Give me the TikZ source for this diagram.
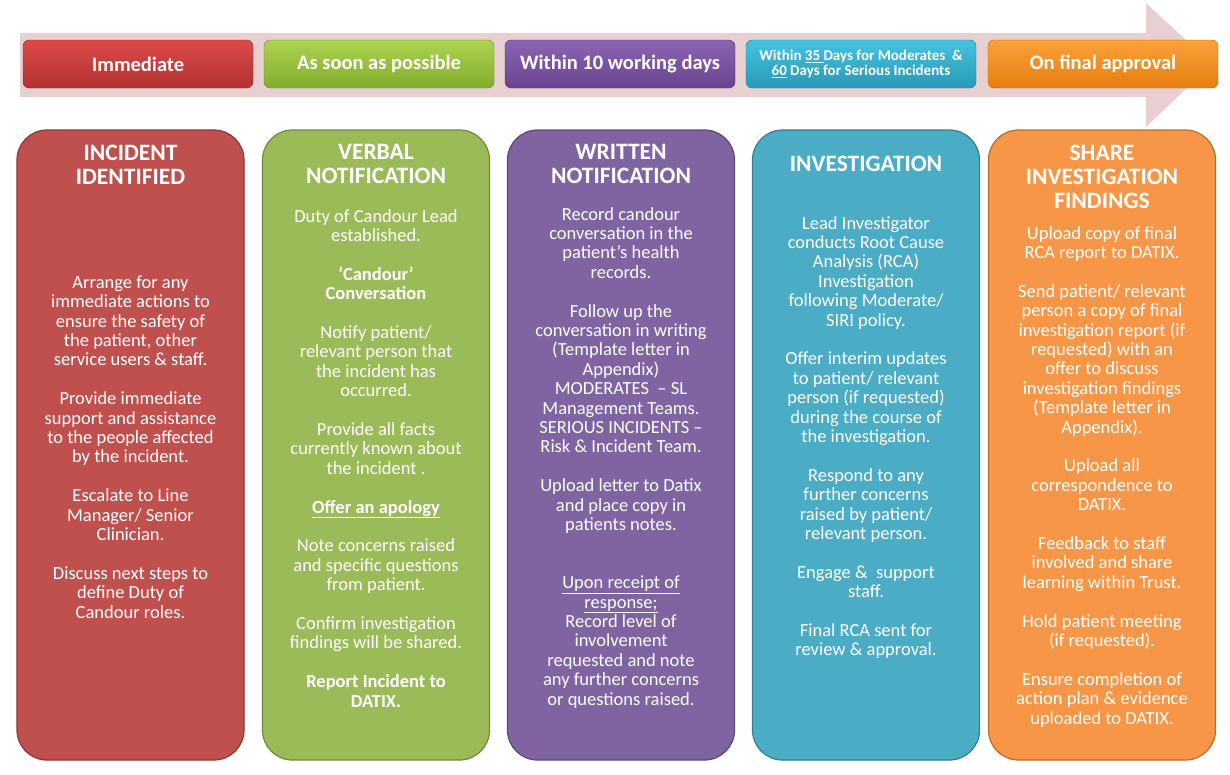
\documentclass[tikz,border=0pt]{standalone}
\usepackage{fontspec}
\setmainfont{Carlito}
\definecolor{bandpink}{HTML}{E8D0D0}
\definecolor{redTop}{HTML}{DE4A4A}\definecolor{redBot}{HTML}{B33131}\definecolor{redEdge}{HTML}{8E2A2A}
\definecolor{redCol}{HTML}{C0504D}\definecolor{redLine}{HTML}{8C3836}
\definecolor{grnTop}{HTML}{ACD450}\definecolor{grnBot}{HTML}{84AC2C}\definecolor{grnEdge}{HTML}{6A8A25}
\definecolor{grnCol}{HTML}{9BBB59}\definecolor{grnLine}{HTML}{71893F}
\definecolor{purTop}{HTML}{8C64B4}\definecolor{purBot}{HTML}{68448E}\definecolor{purEdge}{HTML}{533872}
\definecolor{purCol}{HTML}{8064A2}\definecolor{purLine}{HTML}{5C4776}
\definecolor{cyaTop}{HTML}{45C3E0}\definecolor{cyaBot}{HTML}{2899B6}\definecolor{cyaEdge}{HTML}{217F97}
\definecolor{cyaCol}{HTML}{4BACC6}\definecolor{cyaLine}{HTML}{357D91}
\definecolor{orgTop}{HTML}{FBA23A}\definecolor{orgBot}{HTML}{E57E0E}\definecolor{orgEdge}{HTML}{B8650B}
\definecolor{orgCol}{HTML}{F79646}\definecolor{orgLine}{HTML}{B66D31}
\newcommand{\gap}{\\[19.4pt]}
\lineskiplimit=-10pt

\begin{document}
\begin{tikzpicture}[x=1pt,y=-1pt,
   tab/.style={rounded corners=6pt, draw=#1Edge, top color=#1Top, bottom color=#1Bot,
      minimum width=230pt, minimum height=48pt, inner sep=2pt, text=white, align=center,
      font=\fontsize{20.5}{22}\selectfont\bfseries},
   col/.style={rounded corners=30pt, draw=#1Line, line width=1.2pt, fill=#1Col,
      minimum width=227pt, minimum height=630pt},
   head/.style={anchor=north, text=white, align=center, inner sep=0pt,
      font=\fontsize{23.5}{24}\selectfont\bfseries},
   body/.style={anchor=north, text=white, align=center, inner sep=0pt,
      font=\fontsize{18.5}{19.4}\selectfont}]
   \useasboundingbox (0,0) rectangle (1230,774);
   \fill[bandpink] (20,33) -- (1146,33) -- (1146,3) -- (1212,64) -- (1146,127) -- (1146,97) -- (20,97) -- cycle;

   \node[tab=red] (immediate) at (138,64) {Immediate};
   \node[tab=grn] (asap)      at (379,64) {As soon as possible};
   \node[tab=pur] (tenday)    at (620,64) {Within 10 working days};
   \node[tab=cya, font=\fontsize{15}{15.5}\selectfont\bfseries] (days) at (861,64)
      {Within \underline{35 }Days for Moderates\ \ \&\\ \underline{60} Days for Serious Incidents};
   \node[tab=org] (approval)  at (1103,64) {On final approval};

   \node[col=red] (incident) at (130.5,445) {};
   \node[col=grn] (verbal)   at (376,445) {};
   \node[col=pur] (written)  at (621,445) {};
   \node[col=cya] (invest)   at (866,445) {};
   \node[col=org] (share)    at (1102,445) {};

   \node[head] (incidentT) at (130.5,144.5) {INCIDENT\\ IDENTIFIED};
   \node[head] (verbalT)   at (376,144.5)   {VERBAL\\ NOTIFICATION};
   \node[head] (writtenT)  at (621,144.5)   {WRITTEN\\ NOTIFICATION};
   \node[head] (investT)   at (866,155.5)   {INVESTIGATION};
   \node[head] (shareT)    at (1102,144.5)  {SHARE\\ INVESTIGATION\\ FINDINGS};

   \node[body] (incidentB) at (130.5,275.5) {Arrange for any\\ immediate actions to\\ ensure the safety of\\
      the patient, other\\ service users \& staff.\gap
      Provide immediate\\ support and assistance\\ to the people affected\\ by the incident.\gap
      Escalate to Line\\ Manager/ Senior\\ Clinician.\gap
      Discuss next steps to\\ define Duty of\\ Candour roles.};
   \node[body] (verbalB) at (376,209) {Duty of Candour Lead\\ established.\gap
      \textbf{‘Candour’}\\ \textbf{Conversation}\gap
      Notify patient/\\ relevant person that\\ the incident has\\ occurred.\gap
      Provide all facts\\ currently known about\\ the incident .\gap
      \textbf{\underline{Offer an apology}}\gap
      Note concerns raised\\ and specific questions\\ from patient.\gap
      Confirm investigation\\ findings will be shared.\gap
      \textbf{Report Incident to}\\ \textbf{DATIX.}};
   \node[body] (writtenB) at (621,207) {Record candour\\ conversation in the\\ patient’s health\\ records.\gap
      Follow up the\\ conversation in writing\\ (Template letter in\\ Appendix)\\
      MODERATES\ \ – SL\\ Management Teams.\\ SERIOUS INCIDENTS –\\ Risk \& Incident Team.\gap
      Upload letter to Datix\\ and place copy in\\ patients notes.\\[38.8pt]
      \underline{Upon receipt of}\\ \underline{response;}\\ Record level of\\ involvement\\
      requested and note\\ any further concerns\\ or questions raised.};
   \node[body] (investB) at (866,216) {Lead Investigator\\ conducts Root Cause\\ Analysis (RCA)\\
      Investigation\\ following Moderate/\\ SIRI policy.\gap
      Offer interim updates\\ to patient/ relevant\\ person (if requested)\\ during the course of\\ the investigation.\gap
      Respond to any\\ further concerns\\ raised by patient/\\ relevant person.\gap
      Engage \&\ \ support\\ staff.\gap
      Final RCA sent for\\ review \& approval.};
   \node[body] (shareB) at (1102,226) {Upload copy of final\\ RCA report to DATIX.\gap
      Send patient/ relevant\\ person a copy of final\\ investigation report (if\\ requested) with an\\
      offer to discuss\\ investigation findings\\ (Template letter in\\ Appendix).\gap
      Upload all\\ correspondence to\\ DATIX.\gap
      Feedback to staff\\ involved and share\\ learning within Trust.\gap
      Hold patient meeting\\ (if requested).\gap
      Ensure completion of\\ action plan \& evidence\\ uploaded to DATIX.};
\end{tikzpicture}
\end{document}
